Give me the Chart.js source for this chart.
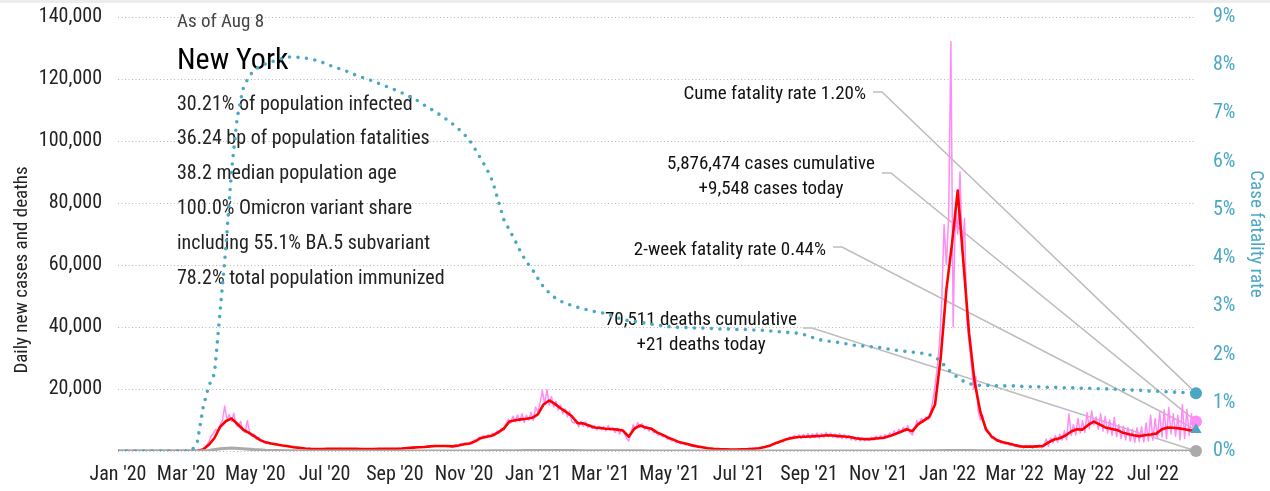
<!DOCTYPE html>
<html>
<head>
<meta charset="utf-8">
<script src="https://cdn.jsdelivr.net/npm/chart.js@4.4.0/dist/chart.umd.min.js"></script>
<style>
  html, body { margin: 0; padding: 0; background: #fff; }
  #wrap { width: 1270px; height: 491px; }
</style>
</head>
<body>
<div id="wrap"><canvas id="myChart" width="1270" height="491"></canvas></div>
<script>
// ---- data ----
const startDate = '2020-01-01';
const endDate = '2022-08-08';

const tickDates = ['2020-01-01', '2020-03-01', '2020-05-01', '2020-07-01', '2020-09-01', '2020-11-01',
  '2021-01-01', '2021-03-01', '2021-05-01', '2021-07-01', '2021-09-01', '2021-11-01',
  '2022-01-01', '2022-03-01', '2022-05-01', '2022-07-01'];
const tickLabels = ["Jan '20", "Mar '20", "May '20", "Jul '20", "Sep '20", "Nov '20",
  "Jan '21", "Mar '21", "May '21", "Jul '21", "Sep '21", "Nov '21",
  "Jan '22", "Mar '22", "May '22", "Jul '22"];

// daily new cases, thousands, one value every 2 days from startDate
const dailyStep = 2;
const dailyCasesK = [
  0, 0, 0, 0, 0, 0, 0, 0, 0, 0,
  0, 0, 0, 0, 0, 0, 0, 0, 0, 0,
  0, 0, 0, 0, 0, 0, 0, 0, 0, 0,
  0, 0, 0, 0.1, 0.1, 0.2, 0.3, 0.6, 1.0, 1.8,
  2.9, 4.8, 5.6, 7.0, 6.3, 8.5, 9.8, 14.5, 10.0, 11.8,
  9.6, 12.2, 8.6, 7.8, 9.5, 6.6, 6.0, 9.8, 6.2, 4.8,
  5.5, 3.8, 4.4, 3.0, 3.4, 2.6, 2.9, 2.2, 2.5, 2.0,
  2.3, 1.8, 1.9, 1.5, 1.7, 1.4, 1.4, 1.1, 1.2, 0.9,
  1.0, 0.8, 0.9, 0.7, 0.8, 0.6, 0.7, 0.6, 0.7, 0.6,
  0.7, 0.6, 0.8, 0.7, 0.7, 0.8, 0.7, 0.7, 0.8, 0.7,
  0.7, 0.6, 0.7, 0.7, 0.6, 0.7, 0.6, 0.7, 0.6, 0.7,
  0.6, 0.7, 0.7, 0.6, 0.7, 0.8, 0.7, 0.7, 0.8, 0.7,
  0.7, 0.8, 0.7, 0.8, 0.9, 0.8, 0.9, 1.0, 1.0, 1.1,
  1.2, 1.1, 1.3, 1.2, 1.4, 1.3, 1.5, 1.4, 1.7, 1.5,
  1.8, 1.5, 1.7, 1.6, 1.7, 1.4, 1.6, 1.3, 1.7, 2.0,
  1.6, 2.4, 2.0, 2.6, 2.2, 2.8, 2.3, 3.6, 3.0, 4.5,
  3.9, 5.0, 4.3, 5.2, 4.6, 5.6, 4.9, 6.5, 5.8, 7.3,
  6.8, 9.0, 10.2, 9.0, 11.2, 9.4, 11.6, 9.6, 12.0, 9.2,
  11.5, 10.0, 12.4, 9.8, 14.2, 12.6, 15.5, 19.5, 15.0, 19.8,
  14.8, 17.5, 14.2, 16.0, 13.2, 14.8, 12.0, 13.6, 11.0, 12.8,
  9.4, 9.0, 10.0, 7.8, 9.6, 8.0, 9.4, 7.6, 8.5, 7.2,
  8.2, 6.8, 8.0, 6.9, 7.8, 6.5, 8.2, 6.6, 7.5, 6.0,
  7.4, 5.5, 7.0, 5.8, 4.2, 3.2, 5.5, 8.5, 7.0, 9.2,
  7.5, 8.8, 7.0, 8.0, 6.4, 7.5, 5.8, 6.4, 5.0, 5.6,
  4.5, 5.0, 3.8, 4.2, 3.2, 3.6, 2.6, 3.0, 2.3, 2.6,
  2.0, 2.2, 1.7, 1.8, 1.4, 1.5, 1.2, 1.3, 1.0, 1.0,
  0.8, 0.8, 0.7, 0.6, 0.6, 0.5, 0.6, 0.5, 0.5, 0.4,
  0.5, 0.4, 0.5, 0.5, 0.6, 0.5, 0.6, 0.6, 0.7, 0.7,
  0.8, 0.8, 1.0, 0.9, 1.3, 1.2, 1.7, 1.6, 2.2, 2.4,
  2.8, 2.6, 3.4, 3.0, 4.0, 3.6, 4.6, 3.9, 5.0, 4.2,
  5.2, 4.0, 5.4, 4.2, 5.6, 4.1, 5.5, 4.3, 5.8, 4.2,
  5.6, 4.4, 6.0, 4.6, 5.8, 4.4, 5.5, 4.2, 5.6, 4.0,
  5.3, 3.9, 5.0, 3.6, 4.6, 3.4, 4.4, 3.2, 4.3, 3.3,
  4.2, 3.4, 4.5, 3.6, 4.8, 3.8, 5.0, 4.0, 5.3, 4.4,
  5.8, 4.8, 6.5, 5.5, 7.0, 6.0, 7.6, 6.4, 8.2, 6.0,
  5.2, 7.0, 9.8, 8.6, 10.5, 9.4, 11.0, 10.2, 12.5, 16.0,
  21.0, 27.0, 35.0, 49.0, 73.0, 60.0, 75.0, 132.0, 40.0, 78.0,
  70.0, 90.0, 64.0, 75.0, 42.0, 35.0, 28.0, 20.0, 24.0, 13.0,
  10.0, 11.5, 7.0, 6.0, 5.5, 4.2, 4.6, 3.2, 3.8, 2.5,
  3.0, 2.2, 2.6, 1.8, 2.3, 1.6, 2.0, 1.2, 1.8, 1.0,
  1.6, 1.2, 1.7, 0.9, 1.6, 1.2, 2.0, 1.0, 2.2, 3.8,
  1.5, 4.2, 2.6, 5.0, 2.8, 5.4, 3.5, 6.5, 3.6, 12.0,
  5.0, 8.5, 5.2, 10.5, 5.8, 9.8, 6.0, 12.4, 7.2, 13.0,
  8.4, 11.0, 7.0, 12.0, 6.4, 11.2, 5.8, 10.0, 5.0, 10.8,
  4.6, 8.5, 4.0, 8.0, 3.6, 7.6, 3.2, 7.0, 2.8, 7.5,
  3.0, 7.8, 2.9, 9.0, 3.2, 11.5, 3.5, 10.5, 4.0, 12.5,
  4.5, 13.2, 4.0, 14.0, 5.5, 12.0, 4.8, 11.5, 3.6, 15.0,
  4.0, 13.5, 5.0, 12.0, 6.0, 9.5
];

// 7-day average of new cases, thousands, every 5 days
const avgStep = 5;
const avgCasesK = [
  0, 0, 0, 0, 0, 0, 0, 0, 0, 0,
  0, 0, 0, 0.02, 0.1, 0.5, 2.0, 4.2, 7.8, 9.6,
  10.5, 8.8, 7.0, 5.9, 4.8, 3.6, 2.8, 2.4, 2.1, 1.8,
  1.55, 1.2, 1.0, 0.8, 0.7, 0.65, 0.65, 0.7, 0.7, 0.72,
  0.7, 0.68, 0.67, 0.66, 0.66, 0.66, 0.7, 0.72, 0.72, 0.75,
  0.8, 0.95, 1.1, 1.2, 1.3, 1.5, 1.6, 1.6, 1.6, 1.5,
  1.8, 2.2, 2.4, 3.2, 4.2, 4.6, 5.0, 6.0, 7.2, 9.5,
  9.9, 10.2, 10.4, 10.7, 11.8, 15.0, 16.3, 15.2, 13.8, 12.6,
  11.2, 9.0, 8.9, 8.2, 7.6, 7.4, 7.2, 7.1, 6.9, 6.6,
  4.6, 7.2, 8.2, 7.6, 7.2, 6.0, 5.2, 4.3, 3.6, 2.8,
  2.4, 1.9, 1.5, 1.2, 0.9, 0.7, 0.6, 0.55, 0.5, 0.5,
  0.55, 0.6, 0.75, 0.9, 1.3, 1.8, 2.6, 3.2, 3.9, 4.3,
  4.5, 4.6, 4.7, 4.8, 4.9, 5.1, 5.0, 4.8, 4.7, 4.5,
  4.1, 3.9, 3.8, 3.9, 4.1, 4.3, 4.8, 5.5, 6.2, 7.0,
  6.4, 8.6, 9.8, 11.0, 15.0, 30.0, 52.0, 67.0, 84.0, 61.0,
  38.0, 22.0, 12.5, 7.0, 4.6, 3.4, 2.8, 2.4, 1.9, 1.5,
  1.4, 1.4, 1.5, 1.6, 2.8, 3.7, 4.1, 5.0, 6.3, 7.0,
  6.9, 8.4, 9.5, 8.6, 7.6, 7.2, 6.8, 6.0, 5.5, 5.1,
  4.8, 5.1, 5.3, 5.6, 7.0, 7.6, 7.5, 7.3, 7.0, 6.6,
  6.8
];

// daily new deaths, thousands, every 10 days
const deathsStep = 10;
const dailyDeathsK = [
  0, 0, 0, 0, 0, 0, 0, 0.01, 0.15, 0.7,
  1.0, 0.75, 0.45, 0.25, 0.15, 0.08, 0.05, 0.03, 0.02, 0.02,
  0.01, 0.01, 0.01, 0.01, 0.01, 0.01, 0.01, 0.01, 0.01, 0.02,
  0.02, 0.03, 0.04, 0.06, 0.1, 0.12, 0.14, 0.17, 0.18, 0.16,
  0.14, 0.1, 0.08, 0.07, 0.06, 0.06, 0.05, 0.04, 0.03, 0.02,
  0.01, 0.01, 0.01, 0.01, 0.01, 0.01, 0.01, 0.01, 0.02, 0.03,
  0.03, 0.03, 0.03, 0.03, 0.03, 0.03, 0.03, 0.03, 0.03, 0.03,
  0.04, 0.06, 0.1, 0.14, 0.18, 0.18, 0.12, 0.08, 0.05, 0.03,
  0.02, 0.02, 0.02, 0.02, 0.02, 0.02, 0.02, 0.02, 0.02, 0.02,
  0.02, 0.02, 0.02, 0.02, 0.02, 0.021
];

// cumulative case fatality rate, percent, every 5 days
const cfrStep = 5;
const cfrPct = [
  0, 0, 0, 0, 0, 0, 0, 0, 0, 0,
  0, 0, 0, 0, 0.2, 0.9, 1.35, 1.6, 2.9, 4.2,
  5.8, 6.9, 7.5, 7.75, 7.9, 7.97, 8.03, 8.07, 8.1, 8.14,
  8.17, 8.17, 8.16, 8.15, 8.13, 8.1, 8.06, 8.01, 7.97, 7.93,
  7.89, 7.84, 7.79, 7.75, 7.71, 7.67, 7.62, 7.57, 7.53, 7.48,
  7.43, 7.37, 7.32, 7.25, 7.17, 7.1, 7.03, 6.95, 6.87, 6.78,
  6.68, 6.57, 6.44, 6.25, 6.05, 5.85, 5.6, 5.2, 4.8, 4.58,
  4.36, 4.12, 3.92, 3.77, 3.58, 3.4, 3.28, 3.18, 3.11, 3.05,
  3.02, 2.98, 2.95, 2.92, 2.89, 2.87, 2.85, 2.8, 2.76, 2.73,
  2.7, 2.69, 2.67, 2.65, 2.63, 2.61, 2.6, 2.58, 2.57, 2.56,
  2.56, 2.55, 2.55, 2.55, 2.54, 2.54, 2.53, 2.53, 2.53, 2.52,
  2.52, 2.52, 2.51, 2.51, 2.5, 2.49, 2.48, 2.47, 2.46, 2.45,
  2.44, 2.41, 2.37, 2.33, 2.3, 2.28, 2.27, 2.25, 2.23, 2.21,
  2.19, 2.18, 2.17, 2.16, 2.15, 2.13, 2.11, 2.09, 2.08, 2.06,
  2.05, 2.04, 2.02, 2.0, 1.94, 1.87, 1.72, 1.62, 1.52, 1.45,
  1.4, 1.37, 1.36, 1.36, 1.36, 1.35, 1.35, 1.35, 1.35, 1.34,
  1.34, 1.33, 1.33, 1.33, 1.32, 1.32, 1.32, 1.31, 1.31, 1.31,
  1.3, 1.3, 1.3, 1.29, 1.29, 1.28, 1.28, 1.27, 1.27, 1.26,
  1.26, 1.25, 1.24, 1.24, 1.23, 1.23, 1.22, 1.22, 1.21, 1.21,
  1.2
];

const casesToday = 9548;
const deathsToday = 21;
const cumeFatalityRate = 1.20;
const twoWeekFatalityRate = 0.44;

const asOfText = 'As of Aug 8';
const regionName = 'New York';
const infoLines = [
  '30.21% of population infected',
  '36.24 bp of population fatalities',
  '38.2 median population age',
  '100.0% Omicron variant share',
  'including 55.1% BA.5 subvariant',
  '78.2% total population immunized'
];
const cumeLabel = ['Cume fatality rate 1.20%'];
const casesLabel = ['5,876,474 cases cumulative', '+9,548 cases today'];
const twoWeekLabel = ['2-week fatality rate 0.44%'];
const deathsLabel = ['70,511 deaths cumulative', '+21 deaths today'];
const leftTitle = 'Daily new cases and deaths';
const rightTitle = 'Case fatality rate';

// ---- helpers ----
const DAY = 86400000;
function dayOf(s) {
  const [y, m, d] = s.split('-').map(Number);
  const [y0, m0, d0] = startDate.split('-').map(Number);
  return Math.round((Date.UTC(y, m - 1, d) - Date.UTC(y0, m0 - 1, d0)) / DAY);
}
const endDay = dayOf(endDate);
const tickDays = tickDates.map(dayOf);
const series = (vals, step, mult) => vals.map((v, i) => ({ x: i * step, y: v * mult }));

const FONT = "'Roboto Condensed', 'DejaVu Sans Condensed', sans-serif";
const TEAL = '#4aa8c4';
const PINK = '#ff8cf6';
const GREY = '#aaaaaa';

Chart.defaults.font.family = FONT;
Chart.defaults.color = '#222';

// text block, callouts, leader lines, left axis title
const notesPlugin = {
  id: 'notes',
  beforeDraw(chart) {
    const ctx = chart.ctx;
    ctx.save();
    ctx.fillStyle = '#ededed';
    ctx.fillRect(0, 0, chart.width, 3);
    ctx.restore();
  },
  beforeDatasetsDraw(chart) {
    const { ctx, scales } = chart;
    const xr = scales.x.getPixelForValue(endDay);
    ctx.save();
    ctx.textBaseline = 'middle';
    ctx.textAlign = 'left';
    ctx.fillStyle = '#444';
    ctx.font = `19px ${FONT}`;
    ctx.fillText(asOfText, 177, 22);
    ctx.fillStyle = '#000';
    ctx.font = `30px ${FONT}`;
    ctx.fillText(regionName, 177, 61);
    ctx.fillStyle = '#222';
    ctx.font = `20px ${FONT}`;
    infoLines.forEach((t, i) => ctx.fillText(t, 177, 104.5 + i * 34.8));

    // left axis title, drawn by hand so it can sit a little low as in the original
    ctx.save();
    ctx.translate(22, 270);
    ctx.rotate(-Math.PI / 2);
    ctx.textAlign = 'center';
    ctx.font = `19px ${FONT}`;
    ctx.fillText(leftTitle, 0, 0);
    ctx.restore();

    const callouts = [
      { lines: cumeLabel, x: 866, y: 94, align: 'right', lx: 873, ly: 92, to: scales.y1.getPixelForValue(cumeFatalityRate) },
      { lines: casesLabel, x: 771, y: 164, align: 'center', lx: 882, ly: 173, to: scales.y.getPixelForValue(casesToday) },
      { lines: twoWeekLabel, x: 826, y: 250, align: 'right', lx: 833, ly: 247, to: scales.y1.getPixelForValue(twoWeekFatalityRate) },
      { lines: deathsLabel, x: 701, y: 320, align: 'center', lx: 803, ly: 328, to: scales.y.getPixelForValue(deathsToday) }
    ];
    ctx.font = `19px ${FONT}`;
    ctx.fillStyle = '#111';
    callouts.forEach(c => {
      ctx.textAlign = c.align;
      c.lines.forEach((t, i) => ctx.fillText(t, c.x, c.y + i * 25));
      ctx.beginPath();
      ctx.strokeStyle = '#bdbdbd';
      ctx.lineWidth = 1.5;
      ctx.moveTo(c.lx, c.ly);
      ctx.lineTo(c.lx + 9, c.ly);
      ctx.lineTo(xr, c.to);
      ctx.stroke();
    });
    ctx.restore();
  }
};

const endMarker = (value, axis, color, style, r) => ({
  data: [{ x: endDay, y: value }],
  yAxisID: axis,
  showLine: false,
  pointStyle: style,
  pointRadius: r,
  pointBackgroundColor: color,
  pointBorderColor: color,
  pointBorderWidth: 0,
  clip: false
});

// fixed axis sizes; drop the label padding Chart.js reserves above/below the value axes
const fixWidth = w => s => { s.width = w; s.paddingTop = 0; s.paddingBottom = 0; };

const ctx = document.getElementById('myChart').getContext('2d');
const myChart = new Chart(ctx, {
  type: 'line',
  data: {
    datasets: [
      endMarker(twoWeekFatalityRate, 'y1', TEAL, 'triangle', 6.5),
      endMarker(cumeFatalityRate, 'y1', TEAL, 'circle', 6),
      endMarker(casesToday, 'y', PINK, 'circle', 6),
      endMarker(deathsToday, 'y', GREY, 'circle', 6),
      {
        label: 'Case fatality rate',
        data: series(cfrPct, cfrStep, 1),
        yAxisID: 'y1',
        borderColor: TEAL,
        borderWidth: 3.6,
        borderDash: [0, 8.5],
        borderCapStyle: 'round',
        pointRadius: 0
      },
      {
        label: 'Deaths',
        data: series(dailyDeathsK, deathsStep, 1000),
        yAxisID: 'y',
        borderColor: GREY,
        borderWidth: 3,
        pointRadius: 0
      },
      {
        label: 'Cases 7-day avg',
        data: series(avgCasesK, avgStep, 1000),
        yAxisID: 'y',
        borderColor: '#ff0000',
        borderWidth: 2.6,
        pointRadius: 0
      },
      {
        label: 'Daily cases',
        data: series(dailyCasesK, dailyStep, 1000),
        yAxisID: 'y',
        borderColor: PINK,
        borderWidth: 1.5,
        pointRadius: 0
      }
    ]
  },
  options: {
    responsive: false,
    animation: false,
    devicePixelRatio: 1,
    layout: { padding: { top: 17, left: 0, right: 0, bottom: 0 } },
    plugins: { legend: { display: false }, tooltip: { enabled: false } },
    elements: { line: { tension: 0, borderJoinStyle: 'round' }, point: { radius: 0 } },
    scales: {
      x: {
        type: 'linear',
        min: 0,
        max: endDay,
        grid: { display: false, drawTicks: false },
        border: { display: false },
        afterBuildTicks: s => { s.ticks = tickDays.map(v => ({ value: v })); },
        afterFit: s => { s.height = 40; },
        ticks: {
          autoSkip: false, maxRotation: 0, minRotation: 0, padding: 12,
          color: '#222', font: { size: 20 },
          callback: (v, i) => tickLabels[i]
        }
      },
      y: {
        position: 'left',
        min: 0,
        max: 140000,
        afterFit: fixWidth(118),
        grid: { color: '#b5b5b5', lineWidth: 1, drawTicks: false },
        border: { display: false, dash: [1, 2.5] },
        ticks: {
          stepSize: 20000, padding: 16, color: '#222', font: { size: 20 },
          callback: v => v === 0 ? '' : v.toLocaleString('en-US')
        }
      },
      y1: {
        position: 'right',
        min: 0,
        max: 9,
        afterFit: fixWidth(74),
        grid: { display: false, drawTicks: false },
        border: { display: false },
        ticks: { stepSize: 1, padding: 17, color: TEAL, font: { size: 20 }, callback: v => v + '%' },
        title: { display: true, text: rightTitle, color: TEAL, font: { size: 19 }, padding: { top: 3, bottom: 0 } }
      }
    }
  },
  plugins: [notesPlugin]
});
</script>
</body>
</html>
